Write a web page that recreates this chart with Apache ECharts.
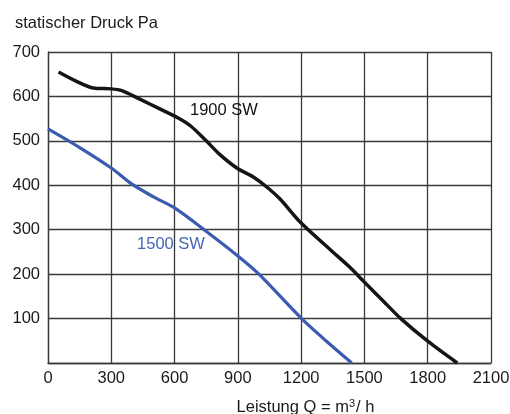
<!DOCTYPE html>
<html>
<head>
<meta charset="utf-8">
<script src="https://cdn.jsdelivr.net/npm/echarts@6/dist/echarts.min.js"></script>
<style>
  html, body { margin: 0; padding: 0; background: #fff; }
  #chart { width: 510px; height: 414px; }
</style>
</head>
<body>
<div id="chart"></div>
<script>
// Kennlinien: [Leistung m3/h, statischer Druck Pa]
const curve1900 = [
  [50, 655], [135, 634], [215, 619], [300, 617], [350, 613], [435, 594],
  [530, 572], [615, 552], [675, 534], [750, 500], [815, 469], [895, 439],
  [975, 418], [1040, 395], [1100, 369], [1200, 315], [1350, 250],
  [1430, 216], [1500, 182], [1590, 139], [1670, 101], [1800, 49], [1940, 0]
];
const curve1500 = [
  [0, 527], [150, 485], [300, 439], [400, 402], [500, 374],
  [600, 349], [740, 300], [900, 241], [1000, 200],
  [1200, 101], [1320, 49], [1440, 0]
];
const names = ["1900 SW", "1500 SW"];
const labelPos1900 = [834, 568];
const labelPos1500 = [583, 266];

const font = "Liberation Sans, Arial, sans-serif";
const fs = 16.5;
const textColor = "#1a1a1a";
const gridColor = "#3a3a3a";

const chart = echarts.init(document.getElementById("chart"));
chart.setOption({
  animation: false,
  title: {
    text: "statischer Druck Pa",
    left: 10,
    top: 10,
    textStyle: { fontFamily: font, fontSize: fs, fontWeight: "normal", color: textColor }
  },
  grid: { left: 48, right: 19, top: 52, bottom: 51, outerBoundsMode: "none", containLabel: false },
  xAxis: {
    type: "value",
    min: 0,
    max: 2100,
    interval: 300,
    name: "Leistung Q = m{sup|3}/ h",
    nameLocation: "middle",
    nameGap: 35,
    nameTextStyle: {
      fontFamily: font, fontSize: fs, color: textColor,
      padding: [0, 0, 0, 72],
      rich: { sup: { fontFamily: font, fontSize: 11, color: textColor, verticalAlign: "top", padding: [0, 1, 7, 0] } }
    },
    axisLine: { show: true, lineStyle: { color: gridColor, width: 1.3 } },
    axisTick: { show: false },
    axisLabel: { fontFamily: font, fontSize: fs, color: textColor, margin: 7, formatter: v => String(v) },
    splitLine: { show: true, lineStyle: { color: gridColor, width: 1.3 } }
  },
  yAxis: {
    type: "value",
    min: 0,
    max: 700,
    interval: 100,
    axisLine: { show: true, lineStyle: { color: gridColor, width: 1.3 } },
    axisTick: { show: false },
    axisLabel: {
      fontFamily: font, fontSize: fs, color: textColor, margin: 8,
      formatter: v => (v === 0 ? "" : String(v))
    },
    splitLine: { show: true, lineStyle: { color: gridColor, width: 1.3 } }
  },
  series: [
    {
      name: names[0],
      type: "line",
      data: curve1900,
      smooth: 0.3,
      showSymbol: false,
      lineStyle: { color: "#151515", width: 3.5 },
      markPoint: {
        symbolSize: 0,
        data: [{ coord: labelPos1900 }],
        label: { show: true, position: "inside", formatter: names[0], fontFamily: font, fontSize: fs, color: "#111" }
      }
    },
    {
      name: names[1],
      type: "line",
      data: curve1500,
      smooth: 0.3,
      showSymbol: false,
      lineStyle: { color: "#3a5bb0", width: 3.2 },
      markPoint: {
        symbolSize: 0,
        data: [{ coord: labelPos1500 }],
        label: { show: true, position: "inside", formatter: names[1], fontFamily: font, fontSize: fs, color: "#4766bb" }
      }
    }
  ]
});
</script>
</body>
</html>
